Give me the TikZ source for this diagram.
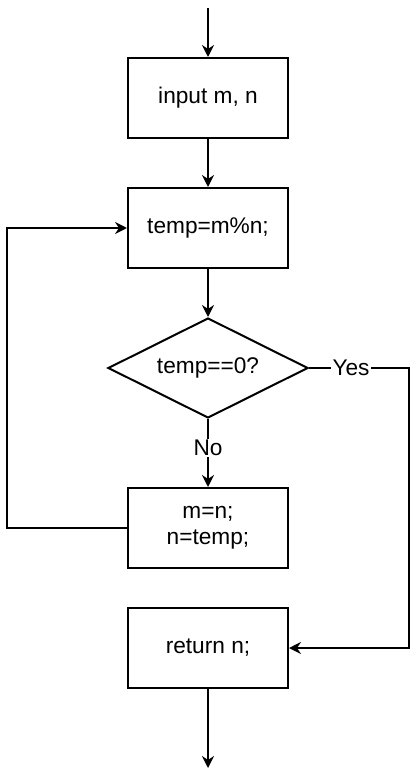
\documentclass[tikz,border=0pt]{standalone}
\usepackage{fontspec}
\setmainfont{Liberation Sans}
\usetikzlibrary{arrows.meta, shapes.geometric, positioning}

\begin{document}
\begin{tikzpicture}[x=0.75pt, y=-0.75pt, node distance=36pt,
 line width=1.5pt, >={Stealth[length=9pt, width=9pt, inset=3pt]},
 box/.style={rectangle, draw, minimum width=120pt, minimum height=60pt,
  align=center, font=\fontsize{17}{19.5}\selectfont},
 decision/.style={diamond, draw, aspect=2, minimum width=150pt, minimum height=75pt,
  inner sep=0pt, font=\fontsize{17}{19.5}\selectfont},
 lbl/.style={fill=white, inner sep=1pt, font=\fontsize{17}{19.5}\selectfont}]
  \useasboundingbox (0,0) rectangle (415,777);
  \node[box] (in) at (208,98) {input m, n};
  \node[box] (calc) [below=of in] {temp=m\%n;};
  \node[decision] (test) [below=of calc] {temp==0?};
  \node[box] (upd) [below=51pt of test] {m=n;\\n=temp;};
  \node[box] (ret) [below=28.5pt of upd] {return n;};
  \coordinate (start) at (208,8);
  \coordinate (stop) at (208,768);

  \foreach \s/\t in {start/in, in/calc, calc/test, ret/stop} {
   \draw[->] (\s) -- (\t);}
  \draw[->] (test) -- node[lbl, pos=0.43] {No} (upd);
  \draw[->] (test.east) -- node[lbl, pos=0.42] {Yes} ++(100,0) |- (ret.east);
  \draw[->] (upd.west) -- ++(-120,0) |- (calc.west);
\end{tikzpicture}
\end{document}
